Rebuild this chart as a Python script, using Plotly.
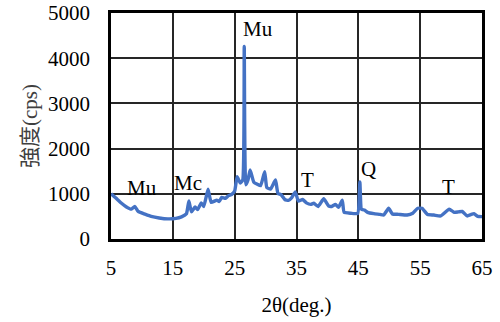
import plotly.graph_objects as go

# 2θ scan angles (deg.) and measured intensity (cps)
two_theta = [5, 6, 6.7, 7.5, 8.3, 8.85, 9.4, 10.5, 11.5, 12.8, 14.2, 15.5, 16.4, 17.2,
             17.6, 18.0, 18.6, 19.0, 19.6, 20.0, 20.7, 21.2, 22.1, 22.5, 22.9, 23.5,
             24.0, 24.5, 25.0, 25.4, 25.9, 26.3, 26.55, 26.8, 27.15, 27.5, 28.1, 28.6,
             29.2, 29.85, 30.2, 30.8, 31.6, 32.0, 32.5, 33.1, 33.7, 34.2, 34.8, 35.3,
             36.0, 36.6, 37.3, 37.8, 38.5, 39.4, 40.2, 40.7, 41.3, 41.8, 42.4, 42.7,
             43.8, 44.9, 45.25, 45.5, 46.0, 46.5, 47.5, 48.5, 49.1, 49.9, 50.5, 51.5,
             52.9, 53.8, 54.6, 55.3, 56.2, 57.2, 58.3, 59.7, 60.5, 61.2, 61.8, 62.6,
             63.2, 63.7, 64.3, 65]
intensity = [1000, 880, 790, 710, 660, 720, 610, 550, 500, 465, 445, 455, 490, 560,
             840, 600, 710, 650, 800, 720, 1100, 810, 860, 830, 920, 900,
             960, 985, 1060, 1380, 1240, 1300, 4260, 1200, 1305, 1525, 1255, 1215,
             1180, 1490, 1140, 1105, 1305, 1010, 980, 875, 855, 910, 1040, 840,
             875, 800, 765, 790, 720, 890, 730, 720, 765, 700, 860, 590,
             570, 565, 1260, 660, 640, 590, 560, 545, 530, 680, 555, 545,
             530, 570, 680, 680, 540, 530, 510, 660, 590, 600, 610, 510,
             540, 560, 500, 495]

# Phase labels: Mu (mullite), Mc, T, Q
label_text = ["Mu", "Mu", "Mc", "T", "Q", "T"]
label_x = [10.0, 28.8, 17.5, 36.8, 46.7, 59.6]
label_y = [1130, 4640, 1230, 1300, 1540, 1160]

x_ticks = [5, 15, 25, 35, 45, 55, 65]
y_ticks = [0, 1000, 2000, 3000, 4000, 5000]

serif = "Liberation Serif"
cjk = "Liberation Serif, Noto Sans CJK JP"

fig = go.Figure()
fig.add_trace(go.Scatter(
    x=two_theta, y=intensity, mode="lines",
    line=dict(color="#4472C4", width=3.4, shape="spline", smoothing=0.4),
    hoverinfo="skip", showlegend=False,
))

for t, lx, ly in zip(label_text, label_x, label_y):
    fig.add_annotation(x=lx, y=ly, xref="x", yref="y", text=t, showarrow=False,
                       font=dict(family=serif, size=21, color="black"))

axis_common = dict(
    showgrid=True, gridcolor="#262626", gridwidth=1.5,
    showline=True, linecolor="black", linewidth=2.5, mirror=True,
    zeroline=False, ticks="", automargin=False,
    tickfont=dict(family=serif, size=21, color="black"),
)

fig.update_xaxes(range=[5, 65], tickvals=x_ticks, ticklabelstandoff=8,
                 title=dict(text="2θ(deg.)", font=dict(family=serif, size=21, color="black"),
                            standoff=19),
                 **axis_common)
fig.update_yaxes(range=[0, 5000], tickvals=y_ticks, ticklabelstandoff=14,
                 title=dict(text="強度(cps)", font=dict(family=cjk, size=21, color="#404040"),
                            standoff=5),
                 **axis_common)

fig.update_layout(
    width=500, height=322,
    margin=dict(l=111, r=18, t=13, b=83),
    font=dict(family=serif, color="black"),
    paper_bgcolor="white", plot_bgcolor="white",
)

fig.write_html("out.html")
